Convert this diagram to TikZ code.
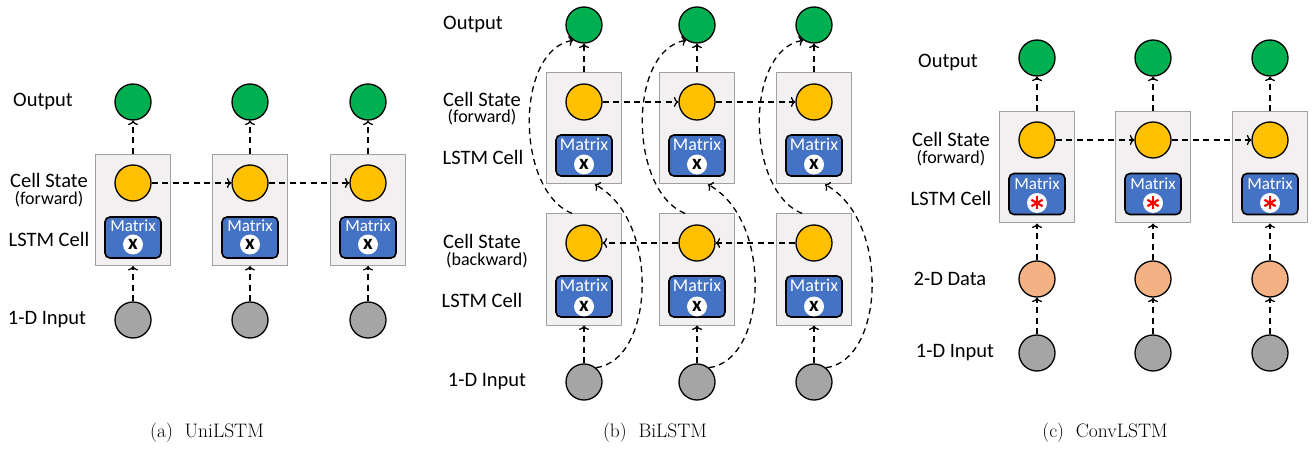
\documentclass[tikz,border=0pt]{standalone}
\usepackage{fontspec}
\newfontfamily\calib{Carlito}
\usetikzlibrary{arrows.meta,calc}
\definecolor{cgreen}{HTML}{00B050}
\definecolor{cyellow}{HTML}{FFC000}
\definecolor{cblue}{HTML}{4472C4}
\definecolor{cgray}{HTML}{A5A5A5}
\definecolor{cpeach}{HTML}{F4B183}
\definecolor{boxfill}{HTML}{F2F0F0}
\definecolor{boxline}{HTML}{A0A0A0}
\tikzset{
  circ/.style={circle,draw=black,line width=1.3pt,minimum size=36pt,inner sep=0pt},
  outc/.style={circ,fill=cgreen},
  cellc/.style={circ,fill=cyellow},
  inc/.style={circ,fill=cgray},
  datac/.style={circ,fill=cpeach},
  cellbox/.style={draw=boxline,fill=boxfill,line width=1pt,minimum width=75pt,minimum height=111pt,inner sep=0pt},
  matbox/.style={draw=black,fill=cblue,line width=1.6pt,rounded corners=5pt,minimum width=56pt,minimum height=41pt,inner sep=0pt},
  mattext/.style={text=white,font=\calib\fontsize{17}{17}\selectfont,inner sep=0pt},
  mattextb/.style={text=white,font=\calib\fontsize{18}{18}\selectfont,inner sep=0pt},
  opc/.style={circle,fill=white,minimum size=20pt,inner sep=0pt,font=\calib\bfseries\fontsize{21}{21}\selectfont},
  lbl/.style={font=\calib\fontsize{20.5}{20.5}\selectfont,inner sep=0pt},
  lbls/.style={font=\calib\fontsize{18}{18}\selectfont,inner sep=0pt},
  captxt/.style={font=\fontsize{19.5}{19.5}\selectfont,inner sep=0pt},
  arr/.style={line width=1.3pt,dash pattern=on 6pt off 4.5pt,-{To[length=4.5pt,width=10pt]}},
}
\begin{document}
\begin{tikzpicture}[x=1pt,y=-1pt]
\useasboundingbox[fill=white] (0,0) rectangle (1315,449);

% ---------------- (a) UniLSTM ----------------
\foreach \x/\i in {133/1,250/2,368/3}{
  \node[cellbox] (ab\i) at (\x,210) {};
  \node[outc] (ao\i) at (\x,102) {};
  \node[cellc] (ac\i) at (\x,183) {};
  \node[matbox] (am\i) at (\x,237.5) {};
  \node[mattext] (amt\i) at (\x,225.5) {Matrix};
  \node[opc] (ax\i) at (\x,244.5) {x};
  \node[inc] (ai\i) at (\x,320) {};
  \draw[arr] (ai\i) -- (ab\i.south);
  \draw[arr] (ab\i.north) -- (ao\i);
}
\draw[arr] (ac1) -- (ac2);
\draw[arr] (ac2) -- (ac3);
\node[lbl] (aL1) at (43,102) {Output};
\node[lbl] (aL2) at (49,180) {Cell State};
\node[lbls] (aL3) at (49,199) {(forward)};
\node[lbl] (aL4) at (49,239) {LSTM Cell};
\node[lbl] (aL5) at (47,320) {1-D Input};
\node[captxt] (acap) at (207,433) {(a)\ \ UniLSTM};

% ---------------- (b) BiLSTM ----------------
\foreach \x/\i in {584/1,697/2,814/3}{
  \node[cellbox] (bu\i) at (\x,128.5) {};
  \node[outc] (bo\i) at (\x,25) {};
  \node[cellc] (bcu\i) at (\x,102) {};
  \node[matbox] (bmu\i) at (\x,155.5) {};
  \node[mattextb] (bmtu\i) at (\x,144.5) {Matrix};
  \node[opc] (bxu\i) at (\x,164.5) {x};
  \node[cellbox] (bl\i) at (\x,269.5) {};
  \node[cellc] (bcl\i) at (\x,243) {};
  \node[matbox] (bml\i) at (\x,296.5) {};
  \node[mattextb] (bmtl\i) at (\x,285.5) {Matrix};
  \node[opc] (bxl\i) at (\x,306.5) {x};
  \node[inc] (bi\i) at (\x,382) {};
  \draw[arr] (bi\i) -- (bl\i.south);
  \draw[arr] (bu\i.north) -- (bo\i);
  \draw[arr] (bi\i.50) .. controls (\x+71,360) and (\x+76,220) .. ($(bu\i.south)+(11,0)$);
  \draw[arr] (bl\i.102) .. controls (\x-69,190) and (\x-69,50) .. (bo\i.235);
}
\draw[arr] (bcu1) -- (bcu2);
\draw[arr] (bcu2) -- (bcu3);
\draw[arr] (bcl3) -- (bcl2);
\draw[arr] (bcl2) -- (bcl1);
\node[lbl] (bL1) at (473,25) {Output};
\node[lbl] (bL2) at (482,99) {Cell State};
\node[lbls] (bL3) at (482,117) {(forward)};
\node[lbl] (bL4) at (483,157) {LSTM Cell};
\node[lbl] (bL5) at (482,241) {Cell State};
\node[lbls] (bL6) at (487,260) {(backward)};
\node[lbl] (bL7) at (482,300) {LSTM Cell};
\node[lbl] (bL8) at (487,382) {1-D Input};
\node[captxt] (bcap) at (655,433) {(b)\ \ BiLSTM};

% ---------------- (c) ConvLSTM ----------------
\foreach \x/\i in {1037/1,1153/2,1270/3}{
  \node[cellbox] (cb\i) at (\x,167.5) {};
  \node[outc] (co\i) at (\x,58) {};
  \node[cellc] (cc\i) at (\x,140) {};
  \node[matbox] (cm\i) at (\x,194) {};
  \node[mattext] (cmt\i) at (\x,183.5) {Matrix};
  \node[circle,fill=white,minimum size=20pt,inner sep=0pt] (cx\i) at (\x,203) {};
  \draw[red,line width=2.2pt] ($(cx\i)+(0,-6.5)$) -- ($(cx\i)+(0,6.5)$);
  \draw[red,line width=2.2pt] ($(cx\i)+(-5.6,-3.25)$) -- ($(cx\i)+(5.6,3.25)$);
  \draw[red,line width=2.2pt] ($(cx\i)+(-5.6,3.25)$) -- ($(cx\i)+(5.6,-3.25)$);
  \node[datac] (cd\i) at (\x,279) {};
  \node[inc] (ci\i) at (\x,353) {};
  \draw[arr] (ci\i) -- (cd\i);
  \draw[arr] (cd\i) -- (cb\i.south);
  \draw[arr] (cb\i.north) -- (co\i);
}
\draw[arr] (cc1) -- (cc2);
\draw[arr] (cc2) -- (cc3);
\node[lbl] (cL1) at (948,63) {Output};
\node[lbl] (cL2) at (951,139) {Cell State};
\node[lbls] (cL3) at (951,158) {(forward)};
\node[lbl] (cL4) at (951,198) {LSTM Cell};
\node[lbl] (cL5) at (950,279) {2-D Data};
\node[lbl] (cL6) at (955,353) {1-D Input};
\node[captxt] (ccap) at (1105,433) {(c)\ \ ConvLSTM};
\end{tikzpicture}
\end{document}
